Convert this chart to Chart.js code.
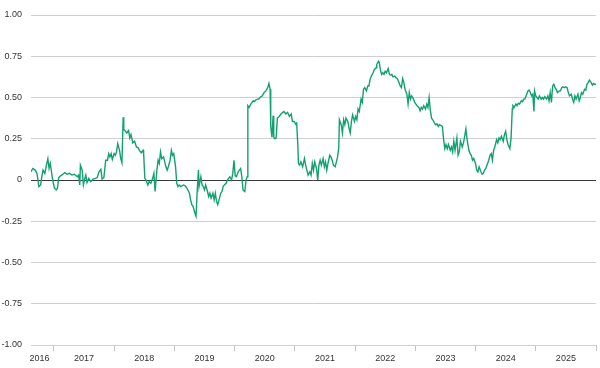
<!DOCTYPE html>
<html>
<head>
<meta charset="utf-8">
<script src="https://cdn.jsdelivr.net/npm/chart.js@4.4.1/dist/chart.umd.min.js"></script>
<style>
  html, body { margin: 0; padding: 0; background: #fff; }
</style>
</head>
<body>
<canvas id="myChart" width="600" height="368"></canvas>
<script>
// dates as decimal years
let years = [
  2016.62, 2016.65, 2016.69, 2016.72, 2016.75, 2016.78, 2016.80, 2016.82, 2016.85, 2016.87,
  2016.90, 2016.92, 2016.94, 2016.96, 2016.98, 2017.01, 2017.04, 2017.06, 2017.08, 2017.11,
  2017.15, 2017.18, 2017.22, 2017.26, 2017.30, 2017.34, 2017.39, 2017.41, 2017.43, 2017.44,
  2017.47, 2017.49, 2017.51, 2017.53, 2017.55, 2017.58, 2017.61, 2017.65, 2017.69, 2017.72,
  2017.75, 2017.78, 2017.80, 2017.83, 2017.86, 2017.89, 2017.91, 2017.93, 2017.95, 2017.97,
  2018.00, 2018.02, 2018.04, 2018.06, 2018.09, 2018.11, 2018.13, 2018.15, 2018.16, 2018.18,
  2018.21, 2018.24, 2018.26, 2018.28, 2018.31, 2018.34, 2018.37, 2018.40, 2018.42, 2018.45,
  2018.48, 2018.49, 2018.51,
  2018.53, 2018.56, 2018.58, 2018.61, 2018.64, 2018.66, 2018.68, 2018.71, 2018.73, 2018.75,
  2018.77, 2018.79, 2018.82, 2018.84, 2018.86, 2018.88, 2018.90, 2018.93, 2018.95, 2018.97,
  2018.99, 2019.02, 2019.04, 2019.06, 2019.08, 2019.11, 2019.15, 2019.18, 2019.21, 2019.25,
  2019.27, 2019.29, 2019.31, 2019.34, 2019.36, 2019.38, 2019.40, 2019.41, 2019.44, 2019.46,
  2019.48, 2019.50, 2019.52, 2019.55, 2019.57, 2019.59, 2019.61, 2019.64, 2019.66, 2019.68,
  2019.70, 2019.72, 2019.75, 2019.77, 2019.79, 2019.81, 2019.83, 2019.86, 2019.88, 2019.90,
  2019.92, 2019.95, 2019.97, 2019.99, 2020.01, 2020.03, 2020.06, 2020.08, 2020.10, 2020.12,
  2020.14, 2020.17, 2020.19, 2020.21, 2020.22, 2020.24, 2020.27, 2020.29, 2020.31, 2020.33,
  2020.35, 2020.38, 2020.40, 2020.42, 2020.44,
  2020.46, 2020.49, 2020.52, 2020.55, 2020.57, 2020.59, 2020.60, 2020.62, 2020.64, 2020.65,
  2020.67, 2020.69, 2020.71, 2020.74, 2020.77, 2020.80, 2020.82, 2020.85, 2020.88, 2020.91,
  2020.94, 2020.96, 2020.99, 2021.02, 2021.03, 2021.05, 2021.06, 2021.08, 2021.10, 2021.13,
  2021.16, 2021.18, 2021.20, 2021.22, 2021.25, 2021.27, 2021.29, 2021.31, 2021.33, 2021.36,
  2021.38, 2021.40, 2021.42, 2021.44, 2021.47, 2021.49, 2021.51, 2021.53, 2021.55, 2021.58,
  2021.60, 2021.62, 2021.64, 2021.67, 2021.69, 2021.71, 2021.73, 2021.74, 2021.77, 2021.79,
  2021.81, 2021.83, 2021.85, 2021.88, 2021.90, 2021.92, 2021.94, 2021.96, 2021.99, 2022.01,
  2022.03, 2022.05, 2022.07, 2022.10, 2022.12, 2022.14, 2022.16, 2022.19, 2022.21, 2022.23,
  2022.25, 2022.27, 2022.30, 2022.32, 2022.35,
  2022.36, 2022.39, 2022.40, 2022.42, 2022.44, 2022.46, 2022.48, 2022.50, 2022.52, 2022.55,
  2022.57, 2022.59, 2022.61, 2022.63, 2022.66, 2022.68, 2022.70, 2022.72, 2022.75, 2022.77,
  2022.79, 2022.81, 2022.83, 2022.86, 2022.88, 2022.90, 2022.92, 2022.94, 2022.97, 2022.99,
  2023.01, 2023.03, 2023.06, 2023.08, 2023.10, 2023.12, 2023.14, 2023.17, 2023.19, 2023.21,
  2023.23, 2023.25, 2023.27, 2023.29, 2023.32, 2023.34, 2023.36, 2023.38, 2023.40, 2023.43,
  2023.45, 2023.47, 2023.49, 2023.51, 2023.53, 2023.55, 2023.58, 2023.60, 2023.62, 2023.64,
  2023.66, 2023.69, 2023.71, 2023.73, 2023.75, 2023.78, 2023.80, 2023.82, 2023.84, 2023.86,
  2023.89, 2023.91, 2023.93, 2023.95, 2023.97, 2024.00, 2024.02, 2024.04, 2024.06, 2024.09,
  2024.11, 2024.13, 2024.15, 2024.17, 2024.20, 2024.22, 2024.24, 2024.26,
  2024.28, 2024.30, 2024.32, 2024.35, 2024.37, 2024.39, 2024.41, 2024.43, 2024.46, 2024.48,
  2024.50, 2024.52, 2024.54, 2024.57, 2024.59, 2024.61, 2024.62, 2024.64, 2024.67, 2024.69,
  2024.71, 2024.73, 2024.76, 2024.78, 2024.80, 2024.82, 2024.84, 2024.87, 2024.89, 2024.91,
  2024.93, 2024.95, 2024.97, 2024.98, 2025.00, 2025.02, 2025.04, 2025.06, 2025.09, 2025.11,
  2025.13, 2025.15, 2025.18, 2025.20, 2025.22, 2025.24, 2025.26, 2025.28, 2025.30, 2025.32,
  2025.34, 2025.36, 2025.39, 2025.41, 2025.43, 2025.45, 2025.47, 2025.50, 2025.52, 2025.54,
  2025.56, 2025.59, 2025.61, 2025.63, 2025.65, 2025.67, 2025.70, 2025.72, 2025.74, 2025.76,
  2025.78, 2025.81, 2025.83, 2025.85, 2025.87, 2025.89, 2025.92, 2025.94, 2025.96, 2025.98,
  2026.00
];

let values = [
  0.05, 0.07, 0.06, 0.04, -0.04, -0.03, 0.02, 0.06, 0.04, 0.08,
  0.13, 0.07, 0.10, 0.05, 0.00, -0.05, -0.06, -0.05, 0.015, 0.025,
  0.035, 0.045, 0.035, 0.04, 0.03, 0.035, 0.02, 0.03, -0.03, 0.09,
  0.06, -0.03, 0.005, 0.03, -0.015, 0.01, -0.01, 0.005, 0.01, 0.015,
  0.05, 0.065, 0.005, 0.015, 0.12, 0.12, 0.16, 0.14, 0.16, 0.125,
  0.16, 0.15, 0.17, 0.22, 0.18, 0.13, 0.105, 0.38, 0.305, 0.30,
  0.285, 0.30, 0.255, 0.275, 0.225, 0.235, 0.20, 0.195, 0.18, 0.165,
  0.18, 0.16, 0.01,
  0.00, -0.03, -0.01, -0.02, 0.01, 0.04, -0.07, 0.06, 0.12, 0.10,
  0.17, 0.13, 0.14, 0.11, 0.08, 0.06, 0.08, 0.12, 0.18, 0.15,
  0.16, 0.08, -0.02, -0.04, -0.03, -0.04, -0.03, -0.035, -0.05, -0.08,
  -0.12, -0.15, -0.16, -0.20, -0.22, -0.06, 0.06, -0.04, 0.02, -0.03,
  -0.04, -0.06, -0.03, -0.07, -0.10, -0.08, -0.11, -0.08, -0.12, -0.08,
  -0.13, -0.15, -0.11, -0.08, -0.07, -0.04, -0.03, -0.02, 0.00, 0.01,
  0.02, 0.00, 0.04, 0.12, 0.025, 0.02, 0.05, 0.06, 0.07, 0.02,
  -0.06, -0.07, 0.00, 0.02, 0.45, 0.44, 0.46, 0.47, 0.48, 0.475,
  0.485, 0.49, 0.49, 0.50, 0.505,
  0.51, 0.53, 0.54, 0.56, 0.585, 0.55, 0.325, 0.26, 0.39, 0.26,
  0.25, 0.255, 0.375, 0.385, 0.40, 0.41, 0.415, 0.40, 0.41, 0.385,
  0.40, 0.355, 0.355, 0.335, 0.35, 0.21, 0.10, 0.09, 0.11, 0.08,
  0.13, 0.09, 0.06, 0.03, 0.05, 0.03, 0.10, 0.06, 0.11, 0.07,
  0.00, 0.09, 0.12, 0.09, 0.13, 0.08, 0.11, 0.06, 0.10, 0.15,
  0.14, 0.12, 0.09, 0.08, 0.11, 0.14, 0.20, 0.365, 0.335, 0.285,
  0.365, 0.335, 0.375, 0.355, 0.315, 0.285, 0.355, 0.395, 0.355, 0.385,
  0.365, 0.43, 0.415, 0.49, 0.47, 0.55, 0.56, 0.54, 0.57, 0.57,
  0.61, 0.63, 0.65, 0.67, 0.68,
  0.70, 0.72, 0.715, 0.67, 0.64, 0.65, 0.64, 0.66, 0.65, 0.675,
  0.64, 0.635, 0.64, 0.625, 0.63, 0.62, 0.615, 0.60, 0.57, 0.56,
  0.615, 0.59, 0.55, 0.52, 0.46, 0.53, 0.49, 0.51, 0.49, 0.47,
  0.46, 0.45, 0.44, 0.42, 0.44, 0.43, 0.45, 0.43, 0.46, 0.44,
  0.50, 0.42, 0.375, 0.365, 0.345, 0.335, 0.34, 0.325, 0.335, 0.33,
  0.325, 0.245, 0.19, 0.215, 0.19, 0.215, 0.18, 0.20, 0.17, 0.235,
  0.18, 0.255, 0.15, 0.17, 0.235, 0.20, 0.225, 0.265, 0.31, 0.245,
  0.18, 0.16, 0.15, 0.12, 0.13, 0.10, 0.06, 0.05, 0.08, 0.05,
  0.035, 0.04, 0.06, 0.07, 0.10, 0.12, 0.15, 0.16,
  0.12, 0.18, 0.20, 0.245, 0.225, 0.255, 0.245, 0.265, 0.235, 0.275,
  0.295, 0.245, 0.215, 0.19, 0.255, 0.43, 0.45, 0.44, 0.46, 0.45,
  0.465, 0.46, 0.48, 0.475, 0.49, 0.49, 0.51, 0.54, 0.545, 0.53,
  0.51, 0.52, 0.415, 0.54, 0.51, 0.50, 0.49, 0.51, 0.49, 0.50,
  0.49, 0.505, 0.49, 0.51, 0.48, 0.53, 0.47, 0.57, 0.58, 0.56,
  0.55, 0.53, 0.54, 0.54, 0.56, 0.565, 0.56, 0.565, 0.56, 0.53,
  0.51, 0.52, 0.49, 0.47, 0.51, 0.49, 0.52, 0.48, 0.50, 0.53,
  0.52, 0.55, 0.545, 0.58, 0.59, 0.605, 0.59, 0.575, 0.585, 0.58,
  0.58
];

let yearLabels = ['2016', '2017', '2018', '2019', '2020', '2021', '2022', '2023', '2024', '2025'];
let yearEdges = [2017, 2018, 2019, 2020, 2021, 2022, 2023, 2024, 2025, 2026];

let startYear = 2016.62;
let endYear = 2026;

// labels sit in the middle of each year, the first one in the visible part of 2016
let labelPos = yearLabels.map((y, i) => i === 0 ? 2016.76 : Number(y) + 0.5);
let xTicks = labelPos.concat(yearEdges).sort((a, b) => a - b);

let font = { family: "'Liberation Sans Narrow', 'Liberation Sans', Arial, sans-serif", size: 9 };

let ctx = document.getElementById('myChart').getContext('2d');
let myChart = new Chart(ctx, {
  type: 'line',
  data: {
    datasets: [{
      data: years.map((x, i) => ({ x: x, y: values[i] })),
      borderColor: '#13a070',
      borderWidth: 1.4,
      pointRadius: 0,
      tension: 0,
      fill: false
    }]
  },
  options: {
    responsive: false,
    animation: false,
    devicePixelRatio: 1,
    layout: { padding: { top: 15, right: 4, left: 0, bottom: 0 } },
    plugins: { legend: { display: false }, tooltip: { enabled: false } },
    scales: {
      x: {
        type: 'linear',
        min: startYear,
        max: endYear,
        afterBuildTicks: (scale) => { scale.ticks = xTicks.map(v => ({ value: v })); },
        afterFit: (scale) => { scale.height = 23; },
        border: { display: false },
        grid: {
          drawOnChartArea: false,
          drawTicks: true,
          tickLength: 6,
          color: (c) => Number.isInteger(c.tick.value) ? '#c4c4c4' : 'rgba(0,0,0,0)'
        },
        ticks: {
          autoSkip: false,
          maxRotation: 0,
          padding: 2,
          color: '#333',
          font: font,
          callback: (v) => {
            let i = labelPos.indexOf(v);
            return i >= 0 ? yearLabels[i] : '';
          }
        }
      },
      y: {
        min: -1,
        max: 1,
        afterFit: (scale) => { scale.width = 31; },
        border: { display: false },
        grid: {
          drawTicks: false,
          color: (c) => c.tick.value === 0 ? '#3a3a3a' : '#cfcfcf'
        },
        ticks: {
          stepSize: 0.25,
          padding: 9,
          color: '#333',
          font: font,
          callback: (v) => v === 0 ? '0' : v.toFixed(2)
        }
      }
    }
  }
});
</script>
</body>
</html>
